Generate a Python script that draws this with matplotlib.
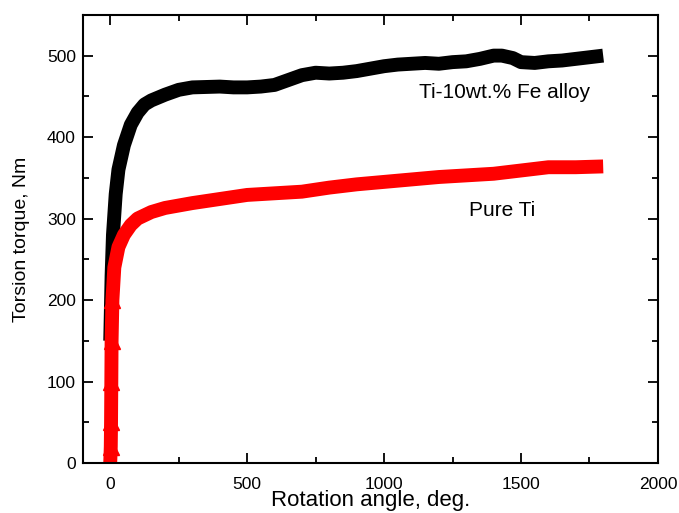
import matplotlib
matplotlib.use('Agg')
import matplotlib.pyplot as plt
from matplotlib.ticker import MultipleLocator

plt.rcParams['font.family'] = ['Liberation Sans', 'DejaVu Sans']

# Ti-10wt.% Fe alloy
alloy_angle = [0, 5, 10, 20, 30, 50, 75, 100, 125, 150, 200, 250, 300, 400, 450,
               500, 550, 600, 650, 700, 750, 800, 850, 900, 950, 1000, 1050,
               1100, 1150, 1200, 1250, 1300, 1350, 1400, 1430, 1470, 1500,
               1550, 1600, 1650, 1700, 1750, 1800]
alloy_torque = [150, 230, 280, 330, 360, 390, 415, 430, 440, 445, 452, 458, 461,
                462, 461, 461, 462, 464, 470, 476, 479, 478, 479, 481, 484, 487,
                489, 490, 491, 490, 492, 493, 496, 500, 500, 497, 492, 491, 493,
                494, 496, 498, 500]

# Pure Ti
ti_angle = [0, 2, 3, 4, 5, 8, 15, 30, 50, 75, 100, 150, 200, 300, 400, 500, 600,
            700, 800, 900, 1000, 1100, 1200, 1300, 1400, 1500, 1600, 1700, 1800]
ti_torque = [0, 20, 50, 100, 150, 200, 240, 265, 280, 292, 300, 308, 313, 319,
             324, 329, 331, 333, 338, 342, 345, 348, 351, 353, 355, 359, 363,
             363, 364]

fig = plt.figure(figsize=(6.79, 5.13), dpi=100)
ax = fig.add_axes([0.122, 0.0975, 0.847, 0.8735])

ax.plot(alloy_angle, alloy_torque, color='black', lw=10, solid_capstyle='butt',
        solid_joinstyle='round')
ax.plot(ti_angle, ti_torque, color='red', lw=10, solid_capstyle='butt',
        solid_joinstyle='round')
ax.plot(ti_angle[:6], ti_torque[:6], color='red', lw=0, marker='^', ms=11)

ax.set_xlim(-100, 2000)
ax.set_ylim(0, 550)
ax.xaxis.set_major_locator(MultipleLocator(500))
ax.xaxis.set_minor_locator(MultipleLocator(250))
ax.yaxis.set_major_locator(MultipleLocator(100))
ax.yaxis.set_minor_locator(MultipleLocator(50))
ax.tick_params(which='both', direction='in', top=True, right=True, width=1.3,
               labelsize=12.5)
ax.tick_params(which='major', length=7)
ax.tick_params(which='minor', length=4)
ax.tick_params(axis='x', pad=10)
ax.tick_params(axis='y', pad=5)
for s in ax.spines.values():
    s.set_linewidth(1.5)

ax.set_xlabel('Rotation angle, deg.', fontsize=16, labelpad=-1)
ax.set_ylabel('Torsion torque, Nm', fontsize=14, labelpad=12)

ax.text(1441, 455, 'Ti-10wt.% Fe alloy', fontsize=15, ha='center', va='center')
ax.text(1430, 310, 'Pure Ti', fontsize=15, ha='center', va='center')

fig.savefig('out.png', dpi=100)
